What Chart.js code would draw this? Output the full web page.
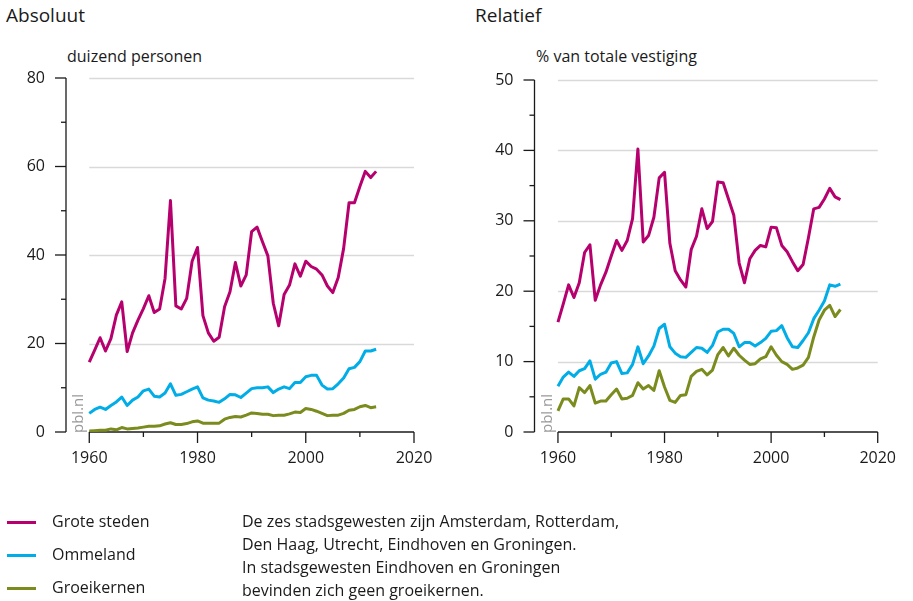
<!DOCTYPE html>
<html>
<head>
<meta charset="utf-8">
<script src="https://cdn.jsdelivr.net/npm/chart.js@4.4.1/dist/chart.umd.min.js"></script>
<style>
  body { margin: 0; background: #fff; font-family: 'Open Sans', sans-serif; color: #1a1a1a; }
  #wrap { position: relative; width: 913px; height: 601px; overflow: hidden; }
  canvas { position: absolute; top: 0; }
  .title { position: absolute; font-size: 19px; top: 2px; }
  .unit { position: absolute; font-size: 16px; top: 45px; }
  .pbl { position: absolute; font-size: 15px; line-height: 15px; color: #999; transform: rotate(-90deg); transform-origin: 0 0; white-space: nowrap; }
  .leg { position: absolute; left: 7px; font-size: 16px; }
  .leg span.sw { position: absolute; left: 0; width: 29px; height: 3px; top: 11px; }
  .leg span.tx { position: absolute; left: 45px; white-space: nowrap; }
  .note { position: absolute; left: 242px; top: 510px; font-size: 16px; line-height: 23px; }
</style>
</head>
<body>
<div id="wrap">
  <div class="title" style="left:6px">Absoluut</div>
  <div class="title" style="left:475px">Relatief</div>
  <div class="unit" style="left:67px">duizend personen</div>
  <div class="unit" style="left:536px">% van totale vestiging</div>
  <canvas id="absChart" width="460" height="480" style="left:0"></canvas>
  <canvas id="relChart" width="453" height="480" style="left:460px"></canvas>
  <div class="pbl" style="left:70px; top:433px">pbl.nl</div>
  <div class="pbl" style="left:539px; top:433px">pbl.nl</div>
  <div id="legend"></div>
  <div class="note">De zes stadsgewesten zijn Amsterdam, Rotterdam,<br>Den Haag, Utrecht, Eindhoven en Groningen.<br>In stadsgewesten Eindhoven en Groningen<br>bevinden zich geen groeikernen.</div>
</div>
<script>
// Data (1960-2013)
const years = [];
for (let y = 1960; y <= 2013; y++) years.push(y);

const seriesNames = ['Grote steden', 'Ommeland', 'Groeikernen'];
const seriesColors = ['#b5006e', '#00ade6', '#7b8b1d'];

// Absoluut (duizend personen)
const grootAbs = [15.8, 18.5, 21.3, 18.3, 21.1, 26.4, 29.4, 18.2, 22.4, 25.3,
    27.9, 30.8, 27.0, 27.8, 34.7, 52.3, 28.5, 27.8, 30.2, 38.6,
    41.7, 26.3, 22.4, 20.5, 21.4, 28.3, 31.7, 38.3, 33.0, 35.5,
    45.3, 46.3, 43.0, 39.8, 29.1, 24.0, 31.1, 33.2, 38.0, 35.2,
    38.6, 37.4, 36.8, 35.5, 33.0, 31.5, 34.9, 41.5, 51.8, 51.8,
    55.5, 58.9, 57.5, 58.9];
const ommeAbs = [4.2, 5.1, 5.6, 5.1, 6.0, 6.8, 7.9, 6.0, 7.2, 7.9,
    9.3, 9.7, 8.1, 7.9, 8.8, 10.9, 8.3, 8.5, 9.1, 9.7,
    10.2, 7.7, 7.2, 7.0, 6.7, 7.5, 8.5, 8.4, 7.8, 8.8,
    9.8, 10.0, 10.0, 10.2, 8.9, 9.7, 10.2, 9.8, 11.2, 11.2,
    12.5, 12.8, 12.8, 10.6, 9.7, 9.8, 10.9, 12.2, 14.3, 14.6,
    15.9, 18.3, 18.3, 18.7];
const groeiAbs = [0.2, 0.3, 0.4, 0.4, 0.7, 0.5, 1.0, 0.7, 0.8, 0.9,
    1.1, 1.3, 1.3, 1.4, 1.8, 2.1, 1.7, 1.7, 1.9, 2.3,
    2.5, 2.0, 2.0, 2.0, 2.0, 2.9, 3.3, 3.5, 3.4, 3.8,
    4.3, 4.2, 4.0, 4.0, 3.7, 3.8, 3.8, 4.1, 4.5, 4.4,
    5.3, 5.1, 4.7, 4.2, 3.7, 3.8, 3.8, 4.2, 4.9, 5.1,
    5.7, 6.0, 5.5, 5.7];

// Relatief (% van totale vestiging)
const grootRel = [15.6, 18.2, 20.9, 19.1, 21.2, 25.5, 26.6, 18.7, 20.9, 22.7,
    25.0, 27.2, 25.8, 27.2, 30.3, 40.2, 27.0, 27.9, 30.5, 36.1,
    36.9, 26.8, 22.9, 21.6, 20.6, 25.9, 27.8, 31.7, 28.9, 29.9,
    35.5, 35.4, 33.1, 30.8, 24.0, 21.2, 24.6, 25.8, 26.5, 26.3,
    29.1, 29.0, 26.5, 25.6, 24.2, 22.9, 23.8, 27.6, 31.7, 31.9,
    33.1, 34.6, 33.4, 33.0];
const ommeRel = [6.5, 7.8, 8.5, 7.9, 8.7, 9.0, 10.1, 7.5, 8.2, 8.5,
    9.8, 10.0, 8.3, 8.4, 9.6, 12.1, 9.7, 10.8, 12.2, 14.7,
    15.3, 12.1, 11.2, 10.7, 10.6, 11.3, 12.0, 11.9, 11.3, 12.3,
    14.2, 14.6, 14.6, 14.0, 12.1, 12.7, 12.7, 12.2, 12.7, 13.3,
    14.3, 14.4, 15.1, 13.4, 12.1, 12.0, 13.0, 14.1, 16.1, 17.3,
    18.6, 20.9, 20.7, 21.0];
const groeiRel = [3.0, 4.7, 4.7, 3.7, 6.3, 5.6, 6.6, 4.1, 4.4, 4.4,
    5.3, 6.1, 4.7, 4.8, 5.2, 7.0, 6.1, 6.6, 5.9, 8.7,
    6.4, 4.5, 4.2, 5.2, 5.3, 7.9, 8.6, 8.9, 8.1, 8.8,
    11.0, 12.0, 10.8, 11.9, 10.9, 10.2, 9.6, 9.7, 10.4, 10.7,
    12.1, 10.9, 10.0, 9.6, 8.9, 9.1, 9.5, 10.6, 13.5, 15.9,
    17.3, 18.0, 16.4, 17.4];

const xTicks = [1960, 1970, 1980, 1990, 2000, 2010, 2020];
const xLabels = [1960, 1980, 2000, 2020];

Chart.defaults.font.family = "'Open Sans', sans-serif";
Chart.defaults.color = '#1a1a1a';

// Draws detached axes, their tick marks and the gridlines between 1960 and 2020
const axesPlugin = {
    id: 'axes',
    beforeDatasetsDraw(chart, args, opts) {
        const ctx = chart.ctx;
        const x = chart.scales.x;
        const y = chart.scales.y;
        const x0 = x.getPixelForValue(1960);
        const x1 = x.getPixelForValue(2020);
        const left = chart.chartArea.left;
        const bottom = y.getPixelForValue(0);
        const top = y.getPixelForValue(y.max);

        function line(ax, ay, bx, by) {
            ctx.beginPath();
            ctx.moveTo(ax, ay);
            ctx.lineTo(bx, by);
            ctx.stroke();
        }

        ctx.save();
        ctx.strokeStyle = '#d9d9d9';
        ctx.lineWidth = 1.5;
        opts.grid.forEach((v) => {
            const py = Math.round(y.getPixelForValue(v)) + 0.5;
            line(x0, py, x1, py);
        });

        ctx.strokeStyle = '#1a1a1a';
        ctx.lineWidth = 1.3;
        line(left, top, left, bottom);
        for (let v = 0; v <= y.max; v += opts.minor) {
            const py = y.getPixelForValue(v);
            const len = v % opts.major === 0 ? 11 : 5;
            line(left - len, py, left, py);
        }
        line(x0, bottom, x1, bottom);
        xTicks.forEach((yr) => {
            const px = x.getPixelForValue(yr);
            const len = xLabels.includes(yr) ? 11 : 5;
            line(px, bottom, px, bottom + len);
        });
        ctx.restore();
    },
};

function makeChart(id, data, cfg) {
    const datasets = data.map((arr, i) => ({
        label: seriesNames[i],
        data: years.map((yr, k) => ({ x: yr, y: arr[k] })),
        borderColor: seriesColors[i],
        backgroundColor: seriesColors[i],
        borderWidth: 3,
        pointRadius: 0,
        tension: 0,
        borderJoinStyle: 'round',
        borderCapStyle: 'butt',
    }));
    datasets.reverse();

    return new Chart(document.getElementById(id), {
        type: 'line',
        data: { datasets: datasets },
        options: {
            responsive: false,
            animation: false,
            layout: { padding: { top: cfg.top, right: cfg.right, left: 0, bottom: 0 } },
            plugins: {
                legend: { display: false },
                tooltip: { enabled: false },
                axes: { grid: cfg.grid, major: cfg.major, minor: cfg.minor },
            },
            scales: {
                x: {
                    type: 'linear',
                    min: cfg.xmin,
                    max: 2020,
                    afterBuildTicks: (scale) => {
                        scale.ticks = xTicks.map((v) => ({ value: v }));
                    },
                    afterFit: (scale) => { scale.height = 48; },
                    grid: { display: false, drawTicks: false },
                    border: { display: false },
                    ticks: {
                        padding: 17,
                        maxRotation: 0,
                        autoSkip: false,
                        font: { size: 16 },
                        callback: (v) => (xLabels.includes(v) ? String(v) : ''),
                    },
                },
                y: {
                    min: 0,
                    max: cfg.ymax,
                    afterFit: (scale) => { scale.width = cfg.yWidth; },
                    grid: { display: false, drawTicks: false },
                    border: { display: false },
                    ticks: {
                        stepSize: cfg.minor,
                        padding: 21,
                        font: { size: 16 },
                        callback: (v) => (v % cfg.major === 0 ? String(v) : ''),
                    },
                },
            },
        },
        plugins: [axesPlugin],
    });
}

makeChart('absChart', [grootAbs, ommeAbs, groeiAbs], {
    top: 78, right: 46, yWidth: 66, xmin: 1955.7, ymax: 80,
    grid: [20, 40, 60, 80], major: 20, minor: 10,
});
makeChart('relChart', [grootRel, ommeRel, groeiRel], {
    top: 80, right: 30, yWidth: 74.5, xmin: 1955.6, ymax: 50,
    grid: [10, 20, 30, 40, 50], major: 10, minor: 5,
});

// Legend
const legend = document.getElementById('legend');
seriesNames.forEach((name, i) => {
    const row = document.createElement('div');
    row.className = 'leg';
    row.style.top = (510 + i * 33) + 'px';
    row.innerHTML = '<span class="sw" style="background:' + seriesColors[i] + '"></span><span class="tx">' + name + '</span>';
    legend.appendChild(row);
});
</script>
</body>
</html>
